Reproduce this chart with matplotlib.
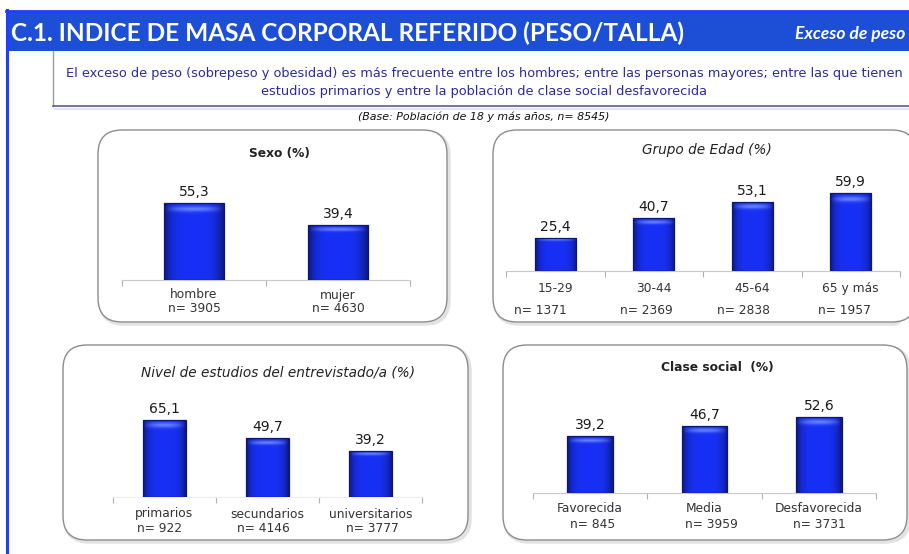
import numpy as np
import matplotlib
matplotlib.use('Agg')
from matplotlib import pyplot as plt
from matplotlib.patches import FancyBboxPatch, Rectangle

plt.rcParams['font.family'] = ['DejaVu Sans']
HEAD_FONT = ['Lato', 'DejaVu Sans']

#%% Data
sexo_cat = ['hombre', 'mujer']
sexo_n = ['n= 3905', 'n= 4630']
sexo_val = [55.3, 39.4]

edad_cat = ['15-29', '30-44', '45-64', '65 y más']
edad_n = ['n= 1371', 'n= 2369', 'n= 2838', 'n= 1957']
edad_val = [25.4, 40.7, 53.1, 59.9]

estudios_cat = ['primarios', 'secundarios', 'universitarios']
estudios_n = ['n= 922', 'n= 4146', 'n= 3777']
estudios_val = [65.1, 49.7, 39.2]

clase_cat = ['Favorecida', 'Media', 'Desfavorecida']
clase_n = ['n= 845', 'n= 3959', 'n= 3731']
clase_val = [39.2, 46.7, 52.6]

TITLE = 'C.1. INDICE DE MASA CORPORAL REFERIDO (PESO/TALLA)'
TAG = 'Exceso de peso'
SUBTITLE = ('El exceso de peso (sobrepeso y obesidad) es más frecuente entre los hombres; '
            'entre las personas mayores; entre las que tienen\n'
            'estudios primarios y entre la población de clase social desfavorecida')
BASE = '(Base: Población de 18 y más años, n= 8545)'

#%% Layout (pixels)
W, H = 909, 554
fig = plt.figure(figsize=(W / 100, H / 100), dpi=100)
fig.patch.set_facecolor('white')

def px_rect(x0, y0, x1, y1):
    return [x0 / W, 1 - y1 / H, (x1 - x0) / W, (y1 - y0) / H]

bg = fig.add_axes([0, 0, 1, 1])
bg.set_xlim(0, W)
bg.set_ylim(H, 0)
bg.axis('off')

# frame + header
bg.add_patch(Rectangle((6, 12), W, 39, facecolor='#1d4fd6', edgecolor='none'))
bg.plot([6, W], [10.5, 10.5], color='#1f3cff', lw=2)
bg.plot([6.5, 6.5], [10, H], color='#1f3cff', lw=2.2)
bg.text(11, 33, TITLE, color='white', fontsize=17.6, fontweight='bold', va='center',
        ha='left', family=HEAD_FONT)
bg.text(905, 34, TAG, color='white', fontsize=12.6, fontweight='bold', style='italic',
        va='center', ha='right', family=HEAD_FONT)

# subtitle box
bg.plot([53, 53], [51, 106], color='#9a9ab0', lw=1)
bg.plot([53, W], [106, 106], color='#5a5a9a', lw=1.2)
bg.plot([55, W], [108.5, 108.5], color='#e4e4ee', lw=1.5)
bg.text(484, 82.5, SUBTITLE, color='#2a2aa0', fontsize=9.3, ha='center', va='center',
        linespacing=1.6)
bg.text(484, 117, BASE, color='#111111', fontsize=7.9, style='italic', ha='center', va='center')

# rounded panel boxes
boxes = [(98, 130, 447, 322), (493, 130, 916, 322), (63, 345, 468, 540), (503, 345, 907, 540)]
for x0, y0, x1, y1 in boxes:
    bg.add_patch(FancyBboxPatch((x0 + 2, y0 + 2), x1 - x0, y1 - y0,
                                boxstyle='round,pad=0,rounding_size=24',
                                facecolor='none', edgecolor='#e2e2e2', lw=2.5))
    bg.add_patch(FancyBboxPatch((x0, y0), x1 - x0, y1 - y0,
                                boxstyle='round,pad=0,rounding_size=24',
                                facecolor='white', edgecolor='#8c8c8c', lw=1))


def shade_bars(ax, bars):
    cols, rows = 30, 60
    t = np.linspace(-1, 1, cols)
    hor = 1 - 0.45 * np.abs(t) ** 4
    v = np.linspace(0, 1, rows)
    hl = np.exp(-((v - 0.07) / 0.035) ** 2)
    base = np.array([24, 48, 245]) / 255.
    light = np.array([120, 150, 255]) / 255.
    img = base[None, None, :] * hor[None, :, None]
    mask = (hl[:, None] * (1 - np.abs(t[None, :]) ** 2))[:, :, None]
    img = img * (1 - 0.8 * mask) + light[None, None, :] * 0.8 * mask
    for b in bars:
        x, y, w, h = b.get_x(), b.get_y(), b.get_width(), b.get_height()
        im = ax.imshow(img, extent=[x, x + w, y, y + h], origin='upper', aspect='auto',
                       zorder=3, interpolation='bilinear')
        im.set_clip_path(b)
        ax.add_patch(Rectangle((x, y), w, h, facecolor='none', edgecolor='#0d1670',
                               lw=0.9, zorder=4))


def panel(rect, ymax, cats, ns, vals, width, title, title_xy, title_style,
          cat_dy, n_dy, n_dx=None, axis_color='#c8c8c8'):
    ax = fig.add_axes(px_rect(*rect))
    ax.patch.set_alpha(0)
    x = np.arange(len(cats))
    bars = ax.bar(x, vals, width=width, color='#1830f0', zorder=2)
    ax.set_xlim(-0.5, len(cats) - 0.5)
    ax.set_ylim(0, ymax)
    shade_bars(ax, bars)
    ax.set_xlim(-0.5, len(cats) - 0.5)
    ax.set_ylim(0, ymax)
    for s in ['top', 'right', 'left']:
        ax.spines[s].set_visible(False)
    ax.spines['bottom'].set_color(axis_color)
    ax.set_yticks([])
    ax.set_xticks([])
    ax.set_xticks(np.arange(len(cats) + 1) - 0.5, minor=True)
    ax.tick_params(axis='x', which='minor', length=4, color='#b0b0b0', width=0.8)
    ax.set_xticklabels([], minor=True)
    for i, v in enumerate(vals):
        ax.annotate(f'{v:.1f}'.replace('.', ','), xy=(i, v), xytext=(0, 11),
                    textcoords='offset pixels', ha='center', va='center',
                    fontsize=10, color='#1a1a1a')
        ax.annotate(cats[i], xy=(i, 0), xytext=(0, -cat_dy), textcoords='offset pixels',
                    ha='center', va='center', fontsize=8.8, color='#333333')
        dx = 0 if n_dx is None else n_dx[i]
        ax.annotate(ns[i], xy=(i, 0), xytext=(dx, -n_dy), textcoords='offset pixels',
                    ha='center', va='center', fontsize=8.8, color='#333333')
    style = dict(fontsize=9, color='#222222')
    style.update(title_style)
    bg.text(title_xy[0], title_xy[1], title, ha='center', va='center', **style)
    return ax


panel((122, 180, 410, 280), (280 - 180) / 1.39, sexo_cat, sexo_n, sexo_val, 0.41,
      'Sexo (%)', (279, 154), {'fontweight': 'bold', 'fontsize': 8.8}, 15, 29)
panel((506, 180, 900, 271), (271 - 180) / 1.30, edad_cat, edad_n, edad_val, 0.42,
      'Grupo de Edad (%)', (707, 150), {'style': 'italic', 'fontsize': 9.8}, 17, 39,
      n_dx=[-15, -7, -9, -6])
panel((113, 395, 422, 497), (497 - 395) / 1.183, estudios_cat, estudios_n, estudios_val, 0.41,
      'Nivel de estudios del entrevistado/a (%)', (278, 373),
      {'style': 'italic', 'fontsize': 9.8}, 17, 32, n_dx=[-5, -4, 2], axis_color='#ececec')
panel((533, 395, 876, 493), (493 - 395) / 1.445, clase_cat, clase_n, clase_val, 0.40,
      'Clase social  (%)', (717, 367), {'fontweight': 'bold', 'fontsize': 8.8}, 16, 31,
      n_dx=[2, 7, 1])

fig.savefig('out.png', dpi=100)
